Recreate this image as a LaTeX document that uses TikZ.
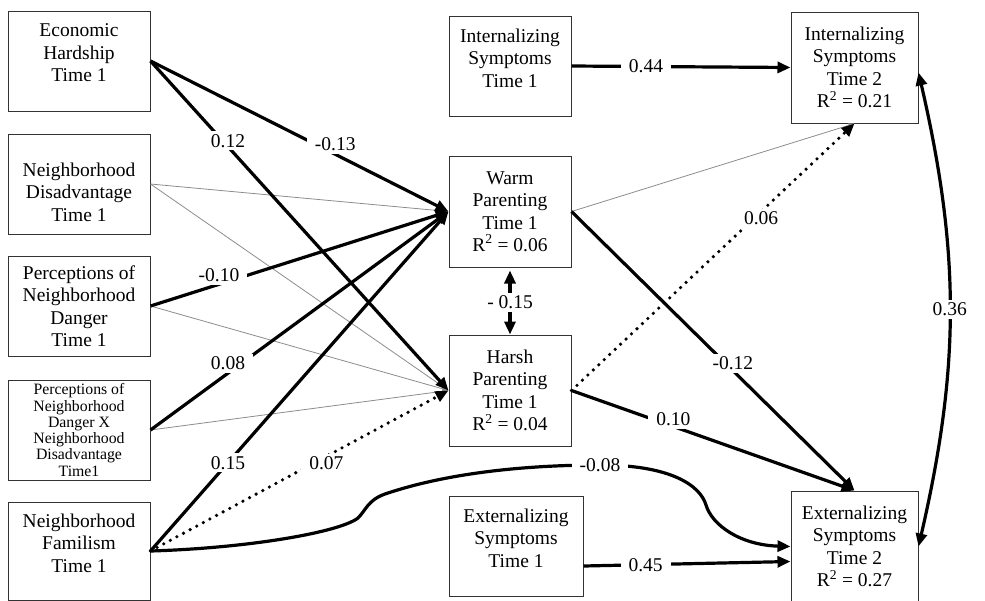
\documentclass[tikz,border=0pt]{standalone}
\usepackage{fontspec}
\setmainfont{Liberation Serif}
\usetikzlibrary{arrows.meta}
\tikzset{
    box/.style={
        draw=black!80,
        line width=1pt,
        align=center,
        inner sep=1pt,
        font=\fontsize{19.5}{22.5}\selectfont
    },
    leftbox/.style={box, minimum width=142pt, minimum height=100pt},
    midbox/.style={box, minimum width=122pt, minimum height=100pt},
    outbox/.style={box, minimum width=127pt, minimum height=111pt},
    thickpath/.style={
        line width=3.2pt,
        >={Triangle[length=13pt,width=11pt]}
    },
    thinpath/.style={
        draw=black!45,
        line width=0.8pt,
        >={Triangle[length=6pt,width=4pt]}
    },
    dotpath/.style={
        line width=3.6pt,
        line cap=round,
        dash pattern=on 0pt off 7.5pt,
        >={Triangle[length=13pt,width=11pt]}
    },
    coef/.style={
        fill=white,
        inner xsep=8pt,
        inner ysep=3pt,
        font=\fontsize{19.5}{22.5}\selectfont
    }
}
\begin{document}
\begin{tikzpicture}[x=1pt,y=-1pt]
\useasboundingbox (0,0) rectangle (985,600);
% predictors
\node[leftbox] (econ) at (79,61) {Economic\\Hardship\\Time 1\\[-6pt]\mbox{}};
\node[leftbox] (disadv) at (79,184) {\mbox{}\\[7pt]Neighborhood\\Disadvantage\\Time 1};
\node[leftbox] (danger) at (79,306) {Perceptions of\\Neighborhood\\Danger\\Time 1};
\node[leftbox, font=\fontsize{15.8}{16.3}\selectfont] (inter) at (79,430) {Perceptions of\\Neighborhood\\Danger X\\Neighborhood\\Disadvantage\\Time1};
\node[leftbox, minimum height=98pt] (famil) at (79,551) {Neighborhood\\Familism\\Time 1\\[-6pt]\mbox{}};
% mediators and controls
\node[midbox] (int1) at (510,66) {Internalizing\\Symptoms\\Time 1\\[-6pt]\mbox{}};
\node[midbox, minimum height=111pt] (warm) at (510,211.5) {Warm\\Parenting\\Time 1\\R\textsuperscript{2} = 0.06};
\node[midbox, minimum height=111pt] (harsh) at (510,390.5) {Harsh\\Parenting\\Time 1\\R\textsuperscript{2} = 0.04};
\node[midbox, minimum width=134pt] (ext1) at (516,546) {Externalizing\\Symptoms\\Time 1\\[-6pt]\mbox{}};
% outcomes
\node[outbox] (int2) at (854.5,67.5) {Internalizing\\Symptoms\\Time 2\\R\textsuperscript{2} = 0.21};
\node[outbox] (ext2) at (854.5,546.5) {Externalizing\\Symptoms\\Time 2\\R\textsuperscript{2} = 0.27};
% non-significant paths
\path[->]
  (disadv.east) edge[thinpath] (warm.west)
  (disadv.east) edge[thinpath] (harsh.west)
  (danger.east) edge[thinpath] (harsh.west)
  (inter.east) edge[thinpath] (harsh.west)
  (warm.east) edge[thinpath] (int2.south);
% trends
\path[->]
  (famil.east) edge[dotpath] node[coef, pos=0.59, yshift=-7pt] {0.07} (harsh.west)
  (harsh.east) edge[dotpath] node[coef, pos=0.67, yshift=-7pt] {0.06} (int2.south);
% significant paths
\path[->]
  (econ.east) edge[thickpath] node[coef, pos=0.62, yshift=10pt] {-0.13} (warm.west)
  (econ.east) edge[thickpath] node[coef, pos=0.26, yshift=6pt] {0.12} (harsh.west)
  (danger.east) edge[thickpath] node[coef, pos=0.23, yshift=9pt] {-0.10} (warm.west)
  (inter.east) edge[thickpath] node[coef, pos=0.26, yshift=10pt] {0.08} (warm.west)
  (famil.east) edge[thickpath] node[coef, pos=0.26] {0.15} (warm.west)
  (int1.east) edge[thickpath] node[coef, pos=0.34] {0.44} (int2.west)
  (warm.east) edge[thickpath] node[coef, pos=0.57, yshift=7pt] {-0.12} (ext2.north)
  (harsh.east) edge[thickpath] node[coef, pos=0.36, yshift=7pt] {0.10} (ext2.north)
  ([yshift=-20pt]ext1.east) edge[thickpath] node[coef, pos=0.3] {0.45} ([yshift=-15pt]ext2.west);
\path[<->]
  ([yshift=-3pt]warm.south) edge[thickpath] node[coef] {- 0.15} (harsh.north)
  ([yshift=-5pt]int2.east) edge[thickpath, bend left=13] node[coef] {0.36} (ext2.east);
\draw[thickpath, ->] (famil.east) .. controls (250,548) and (340,532) .. (358,518)
  .. controls (366,510) and (368,500) .. (385,494)
  .. controls (450,472) and (530,465) .. (600,465) node[coef] {-0.08}
  .. controls (670,465) and (700,485) .. (706,505)
  .. controls (712,525) and (740,545) .. (ext2.west);
\end{tikzpicture}
\end{document}
